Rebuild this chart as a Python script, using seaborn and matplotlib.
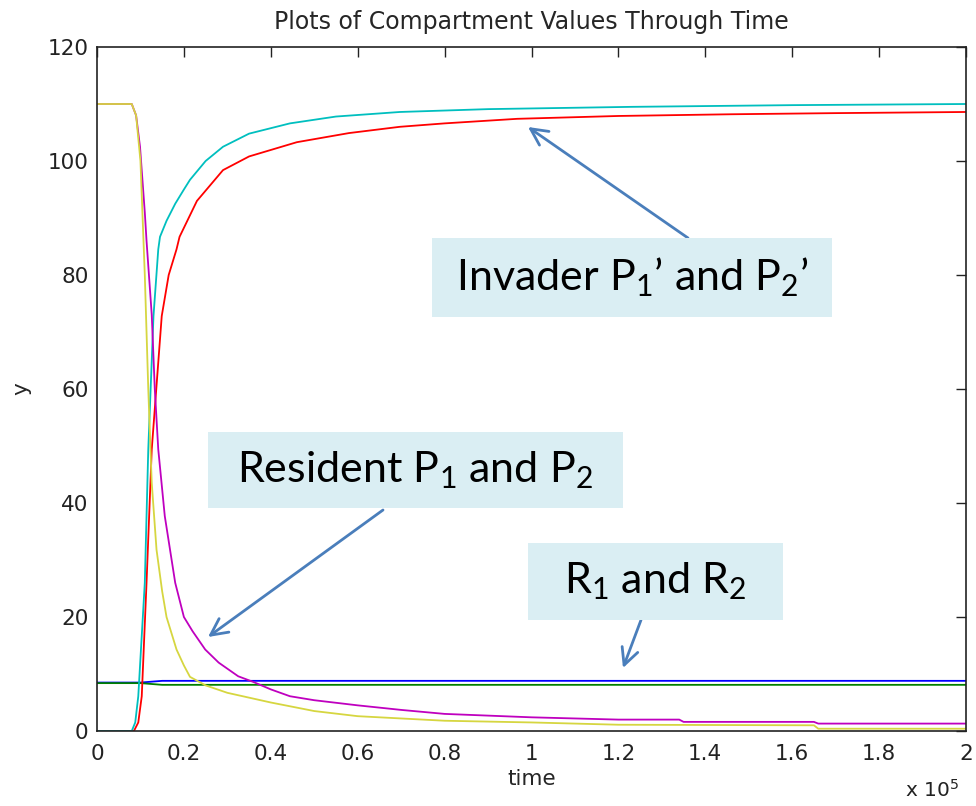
import numpy as np
import pandas as pd
import matplotlib
matplotlib.use("Agg")
import matplotlib.pyplot as plt
from matplotlib.patches import Rectangle
from matplotlib.ticker import FuncFormatter, MultipleLocator
import seaborn as sns

# ---- data (time in units of 1e5) ----
scale = 1e5
t_cyan = [0, 0.08, 0.088, 0.095, 0.11, 0.118, 0.13, 0.141, 0.145, 0.16, 0.18, 0.2, 0.214,
          0.25, 0.29, 0.35, 0.444, 0.55, 0.697, 0.9, 1.23, 1.6, 2.0]
y_cyan = [0, 0, 1.5, 6.1, 26, 49.4, 72.8, 84.5, 86.7, 89.5, 92.5, 95.0, 96.7,
          100.0, 102.5, 104.8, 106.6, 107.8, 108.6, 109.1, 109.5, 109.8, 110]

t_red = [0, 0.085, 0.095, 0.103, 0.114, 0.126, 0.149, 0.165, 0.183, 0.19, 0.23, 0.29,
         0.35, 0.46, 0.58, 0.697, 0.8, 0.967, 1.2, 1.46, 1.7, 2.0]
y_red = [0, 0, 1.5, 6.1, 26, 49.4, 72.8, 80.0, 84.5, 86.7, 93, 98.4,
         100.8, 103.3, 104.9, 106, 106.6, 107.4, 107.9, 108.2, 108.4, 108.6]

t_mag = [0, 0.08, 0.09, 0.099, 0.11, 0.114, 0.126, 0.133, 0.141, 0.156, 0.18, 0.2, 0.22,
         0.249, 0.28, 0.325, 0.36, 0.4, 0.444, 0.5, 0.6, 0.7, 0.8, 1.0, 1.2, 1.34, 1.35,
         1.65, 1.66, 2.0]
y_mag = [110, 110, 108, 102.5, 91, 86, 73, 60, 49.4, 37.7, 26, 20, 17.5,
         14.3, 12.0, 9.6, 8.6, 7.3, 6.1, 5.4, 4.5, 3.7, 3.0, 2.4, 2.0, 2.0, 1.6,
         1.6, 1.3, 1.3]

t_yel = [0, 0.08, 0.09, 0.1, 0.105, 0.11, 0.118, 0.126, 0.137, 0.15, 0.16, 0.183, 0.2,
         0.214, 0.25, 0.3, 0.4, 0.5, 0.6, 0.8, 1.0, 1.2, 1.65, 1.66, 2.0]
y_yel = [110, 110, 108, 100, 90, 80, 60, 43.5, 31.8, 24.5, 20, 14.3, 11.5,
         9.5, 8.0, 6.7, 5.0, 3.5, 2.6, 1.8, 1.5, 1.1, 1.0, 0.4, 0.4]

t_blue = [0, 0.1, 0.15, 2.0]
y_blue = [8.5, 8.5, 8.8, 8.8]
t_green = [0, 0.1, 0.15, 2.0]
y_green = [8.4, 8.4, 8.1, 8.1]

series = [
    ("R1", t_blue, y_blue, (0, 0, 1)),
    ("R2", t_green, y_green, (0, 0.5, 0)),
    ("P1'", t_red, y_red, (1, 0, 0)),
    ("P2'", t_cyan, y_cyan, (0, 0.75, 0.75)),
    ("P1", t_mag, y_mag, (0.75, 0, 0.75)),
    ("P2", t_yel, y_yel, (0.84, 0.84, 0.25)),
]

sns.set_theme(style="white")
plt.rcParams['font.family'] = ['DejaVu Sans']
plt.rcParams['mathtext.fontset'] = 'custom'
plt.rcParams['mathtext.rm'] = 'Lato'

W, H = 976, 806
fig = plt.figure(figsize=(W / 100, H / 100), dpi=100)
ax = fig.add_axes([97 / W, (H - 731) / H, (966 - 97) / W, (731 - 47) / H])

for name, t, y, c in series:
    df = pd.DataFrame({"time": np.array(t) * scale, "y": y})
    sns.lineplot(data=df, x="time", y="y", ax=ax, color=c, linewidth=1.3,
                 estimator=None, sort=False)

ax.set_xlim(0, 2 * scale)
ax.set_ylim(0, 120)
ax.xaxis.set_major_locator(MultipleLocator(0.2 * scale))
ax.yaxis.set_major_locator(MultipleLocator(20))
ax.xaxis.set_major_formatter(FuncFormatter(lambda v, p: f"{v / scale:g}"))
ax.tick_params(direction="in", length=7, width=1, top=True, right=True,
               labelsize=15.5, colors="#222222")
ax.tick_params(axis="x", pad=9)
ax.tick_params(axis="y", pad=6)
for s in ax.spines.values():
    s.set_color("#222222")
    s.set_linewidth(1.2)
ax.set_xlabel("time", fontsize=15.5, labelpad=4)
ax.set_ylabel("y", fontsize=15.5, labelpad=12)
ax.set_title("Plots of Compartment Values Through Time", fontsize=17, pad=13)
fig.text(905 / W, (H - 797) / H, r"x 10$^{5}$", fontsize=14.5, va="baseline", ha="left",
         math_fontfamily="dejavusans", color="#222222")

# ---- annotation boxes ----
box_color = "#DAEEF3"
arrow_color = "#4A7EBB"
boxes = [
    (432, 238, 832, 317, "Invader P$_1$\u2019 and P$_2$\u2019"),
    (208, 432, 623, 508, "Resident P$_1$ and P$_2$"),
    (528, 543, 783, 620, "R$_1$ and R$_2$"),
]
for x0, y0, x1, y1, txt in boxes:
    fig.patches.append(Rectangle((x0 / W, (H - y1) / H), (x1 - x0) / W, (y1 - y0) / H,
                                 transform=fig.transFigure, facecolor=box_color,
                                 edgecolor="none", zorder=5))
    fig.text((x0 + x1) / 2 / W, (H - (y0 + y1) / 2) / H, txt, fontsize=31,
             family="Lato", ha="center", va="center", zorder=6, color="black")

arrows = [((688, 238), (528, 127)), ((383, 510), (208, 637)), ((641, 620), (623, 668))]
for (sx, sy), (ex, ey) in arrows:
    ax.annotate("", xy=(ex, H - ey), xycoords="figure pixels",
                xytext=(sx, H - sy), textcoords="figure pixels",
                arrowprops=dict(arrowstyle="->,head_length=1.0,head_width=0.5",
                                color=arrow_color, lw=2, shrinkA=0, shrinkB=0),
                zorder=7, annotation_clip=False)

fig.savefig("out.png", dpi=100, facecolor="white")
